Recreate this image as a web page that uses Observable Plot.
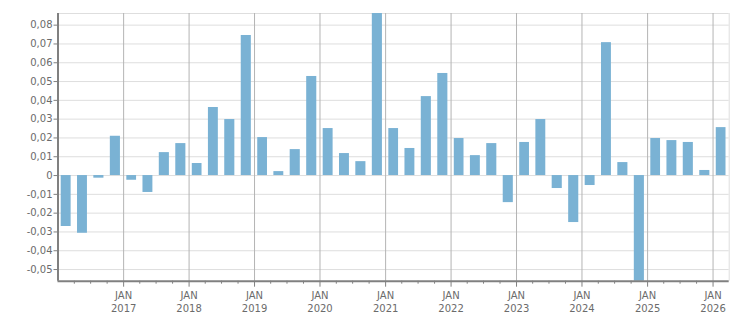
<!DOCTYPE html>
<html>
<head>
<meta charset="utf-8">
<script src="https://cdn.jsdelivr.net/npm/d3@7"></script>
<script src="https://cdn.jsdelivr.net/npm/@observablehq/plot@0.6"></script>
<style>
  html, body { margin: 0; padding: 0; background: #fff; }
</style>
</head>
<body>
<div id="chart"></div>
<script>
// Quarter start dates (bars are drawn across each quarter)
const quarters = [
  "2016-01","2016-04","2016-07","2016-10",
  "2017-01","2017-04","2017-07","2017-10",
  "2018-01","2018-04","2018-07","2018-10",
  "2019-01","2019-04","2019-07","2019-10",
  "2020-01","2020-04","2020-07","2020-10",
  "2021-01","2021-04","2021-07","2021-10",
  "2022-01","2022-04","2022-07","2022-10",
  "2023-01","2023-04","2023-07","2023-10",
  "2024-01","2024-04","2024-07","2024-10",
  "2025-01","2025-04","2025-07","2025-10",
  "2026-01"
];
const values = [
  -0.0271, -0.0307, -0.0014, 0.0209,
  -0.0025, -0.0090, 0.0122, 0.0170,
  0.0064, 0.0362, 0.0298, 0.0745,
  0.0202, 0.0021, 0.0138, 0.0527,
  0.0250, 0.0117, 0.0074, 0.0862,
  0.0250, 0.0144, 0.0420, 0.0543,
  0.0197, 0.0106, 0.0170, -0.0144,
  0.0176, 0.0298, -0.0069, -0.0250,
  -0.0053, 0.0707, 0.0069, -0.0562,
  0.0197, 0.0186, 0.0176, 0.0027,
  0.0255
];
const yTicks = [-0.05, -0.04, -0.03, -0.02, -0.01, 0, 0.01, 0.02, 0.03, 0.04, 0.05, 0.06, 0.07, 0.08];
const yearTicks = ["2017","2018","2019","2020","2021","2022","2023","2024","2025","2026"];
const xStart = "2016-01-01";
const xEnd = "2026-04-01";

const data = quarters.map((q, i) => ({date: new Date(q + "-01T00:00:00Z"), value: values[i]}));
const yearDates = yearTicks.map(y => new Date(y + "-01-01T00:00:00Z"));
const x0 = new Date(xStart + "T00:00:00Z"), x1 = new Date(xEnd + "T00:00:00Z");
const quarterTicks = d3.utcMonth.every(3).range(new Date("2016-04-01T00:00:00Z"), x1)
  .filter(d => d.getUTCMonth() !== 0);
const yMin = d3.min(values), yMax = d3.max(values);
const fmt = d => d === 0 ? "0" : d3.format(".2f")(d).replace(".", ",").replace("\u2212", "-");

const chart = Plot.plot({
  width: 751,
  height: 313,
  marginLeft: 57.5,
  marginRight: 22.3,
  marginTop: 13,
  marginBottom: 32.3,
  style: {fontFamily: "DejaVu Sans", fontSize: "10px", color: "#6b6b6b", background: "#fff"},
  x: {type: "utc", domain: [x0, x1]},
  y: {domain: [yMin, yMax]},
  marks: [
    Plot.ruleY(yTicks, {stroke: "#dedede", strokeWidth: 1}),
    Plot.ruleY([yMax], {stroke: "#dedede", strokeWidth: 1}),
    Plot.ruleX([x1], {stroke: "#dedede", strokeWidth: 1}),
    Plot.ruleX(yearDates, {stroke: "#b4b4b4", strokeWidth: 1}),
    Plot.rectY(data, {x: "date", y: "value", interval: d3.utcMonth.every(3), fill: "#7ab2d4", insetLeft: 3.2, insetRight: 3.2}),
    Plot.axisY({ticks: yTicks, tickSize: 4, tickPadding: 1.5, tickFormat: fmt, stroke: "#808080", label: null}),
    Plot.axisX({ticks: quarterTicks, tickSize: 3, tickFormat: () => "", stroke: "#808080", label: null}),
    Plot.axisX({ticks: yearDates, tickSize: 6, tickPadding: 3, tickFormat: d => "JAN\n" + d.getUTCFullYear(), stroke: "#808080", lineHeight: 1.27, label: null}),
    Plot.ruleX([x0], {stroke: "#808080", strokeWidth: 2}),
    Plot.ruleY([yMin], {stroke: "#808080", strokeWidth: 2})
  ]
});
document.getElementById("chart").appendChild(chart);
</script>
</body>
</html>
